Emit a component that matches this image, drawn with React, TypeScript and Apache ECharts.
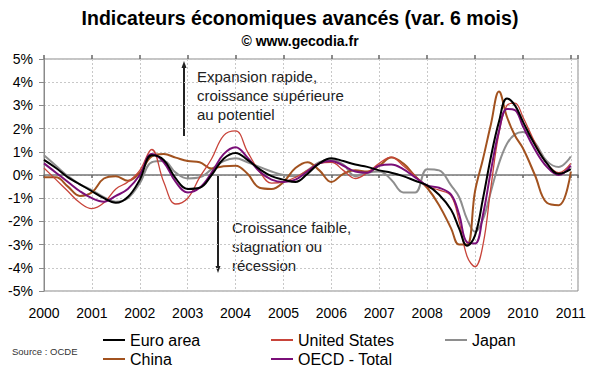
import React, { useEffect, useRef } from "react";
import * as echarts from "echarts";

const times = [
  2000, 2000.25, 2000.5, 2000.75, 2001, 2001.25, 2001.5, 2001.75,
  2002, 2002.25, 2002.5, 2002.75, 2003, 2003.25, 2003.5, 2003.75,
  2004, 2004.25, 2004.5, 2004.75, 2005, 2005.25, 2005.5, 2005.75,
  2006, 2006.25, 2006.5, 2006.75, 2007, 2007.25, 2007.5, 2007.75,
  2008, 2008.25, 2008.5, 2008.667, 2008.833, 2009, 2009.167, 2009.333,
  2009.5, 2009.667, 2009.833, 2010, 2010.25, 2010.5, 2010.75, 2011,
];

const euroArea = [
  0.65, 0.3, -0.1, -0.4, -0.7, -1.0, -1.2, -0.95,
  -0.2, 0.85, 0.65, -0.15, -0.6, -0.55, 0.0, 0.7,
  0.95, 0.65, 0.25, -0.05, -0.2, -0.3, 0.05, 0.5,
  0.72, 0.6, 0.45, 0.35, 0.2, 0.1, -0.05, -0.25,
  -0.45, -0.85, -1.5, -2.3, -3.05, -2.6, -1.0, 0.8,
  2.3, 3.3, 3.0, 2.3, 1.3, 0.5, 0.05, 0.25,
];

const unitedStates = [
  0.3, -0.2, -0.7, -1.2, -1.45, -1.2, -0.6, -0.3,
  0.2, 1.1, -0.3, -1.25, -1.0, -0.1, 0.7, 1.7,
  1.9, 1.0, 0.15, -0.35, -0.3, -0.1, 0.2, 0.5,
  0.55, 0.2, -0.15, 0.1, 0.5, 0.77, 0.4, -0.05,
  -0.5, -0.65, -0.9, -2.0, -3.5, -3.95, -3.0, -0.5,
  1.8, 3.0, 3.1, 2.5, 1.4, 0.5, 0.1, 0.5,
];

const japan = [
  0.85, 0.4, -0.05, -0.4, -0.65, -0.95, -1.15, -1.0,
  -0.35, 0.55, 0.6, 0.1, -0.15, -0.1, 0.25, 0.6,
  0.72, 0.55, 0.35, 0.15, 0.0, -0.05, 0.2, 0.55,
  0.65, 0.45, -0.05, 0.1, 0.15, -0.2, -0.75, -0.75,
  0.25, 0.2, -0.45, -0.95, -1.9, -2.45, -1.9, -0.7,
  0.5, 1.35, 1.75, 1.85, 1.4, 0.6, 0.35, 0.8,
];

const china = [
  -0.1, -0.1, -0.5, -0.9, -0.75, -0.15, -0.05, -0.25,
  0.1, 0.8, 0.9, 0.75, 0.6, 0.55, 0.28, 0.38,
  0.4, 0.05, -0.55, -0.6, -0.3, 0.3, 0.55, 0.2,
  -0.3, 0.05, 0.2, 0.15, 0.4, 0.75, 0.5, -0.05,
  -0.55, -1.3, -2.3, -3.0, -3.0, -0.7, 0.7, 2.2,
  3.6, 2.5, 1.7, 1.15, 0.0, -1.2, -1.3, 0.15,
];

const oecdTotal = [
  0.5, 0.1, -0.3, -0.7, -1.0, -1.15, -0.9, -0.6,
  0.0, 0.9, 0.55, -0.3, -0.75, -0.55, 0.1, 0.9,
  1.2, 0.75, 0.15, -0.2, -0.3, -0.2, 0.15, 0.5,
  0.6, 0.4, 0.15, 0.1, 0.4, 0.45, 0.25, -0.1,
  -0.45, -0.55, -0.85, -1.7, -2.9, -2.95, -1.7, 0.2,
  1.9, 2.85, 2.8, 2.1, 1.1, 0.35, 0.0, 0.4,
];

const seriesNames = ["Euro area", "United States", "Japan", "China", "OECD - Total"];
const seriesColors = ["#000000", "#c8443a", "#8e8e8e", "#a2521f", "#7a0f78"];
const seriesWidths = [2, 1.3, 2, 2, 2];
const seriesValues = [euroArea, unitedStates, japan, china, oecdTotal];
const drawOrder = [2, 3, 1, 4, 0];

const FONT = "'Liberation Sans', Arial, sans-serif";

export default function App() {
  const ref = useRef<HTMLDivElement>(null);
  useEffect(() => {
    if (!ref.current) return;
    const chart = echarts.init(ref.current, undefined, { renderer: "svg" });
    const series = drawOrder.map((i) => ({
      name: seriesNames[i],
      type: "line",
      data: times.map((t, k) => [t, seriesValues[i][k]]),
      showSymbol: false,
      symbol: "none",
      smooth: 0.4,
      color: seriesColors[i],
      lineStyle: { color: seriesColors[i], width: seriesWidths[i] },
      xAxisIndex: 0,
      yAxisIndex: 0,
    }));
    const legendBase = {
      orient: "vertical",
      icon: "rect",
      itemWidth: 22,
      itemHeight: 2,
      itemGap: 1,
      padding: 0,
      selectedMode: false,
      textStyle: { fontFamily: FONT, fontSize: 16, color: "#000", lineHeight: 18 },
    };
    chart.setOption({
      animation: false,
      backgroundColor: "#fff",
      grid: {
        left: 44,
        right: 22,
        top: 59,
        bottom: 81,
        show: true,
        borderColor: "#8a8a8a",
        borderWidth: 1,
      },
      xAxis: [
        {
          type: "value",
          min: 2000,
          max: 2011.15,
          interval: 1,
          axisLine: { show: false, onZero: false },
          axisTick: { show: false },
          splitLine: { show: true, lineStyle: { color: "#c8c8c8", type: [2, 2], width: 1 } },
          axisLabel: {
            fontFamily: FONT,
            fontSize: 14,
            color: "#000",
            margin: 15,
            showMaxLabel: false,
            formatter: (v: number) => (Number.isInteger(v) ? String(v) : ""),
          },
        },
        {
          type: "value",
          min: 2000,
          max: 2011.15,
          interval: 1,
          axisLine: { show: true, onZero: true, lineStyle: { color: "#777", width: 1.5 } },
          axisTick: { show: true, inside: true, length: 3, lineStyle: { color: "#666", width: 1.5 } },
          axisLabel: { show: false },
          splitLine: { show: false },
        },
        {
          type: "value",
          min: 2000,
          max: 2011.15,
          interval: 1,
          axisLine: { show: false, onZero: true },
          axisTick: { show: true, inside: false, length: 4, lineStyle: { color: "#666", width: 1.5 } },
          axisLabel: { show: false },
          splitLine: { show: false },
        },
      ],
      yAxis: {
        type: "value",
        min: -5,
        max: 5,
        interval: 1,
        axisLine: { show: true, lineStyle: { color: "#8a8a8a" } },
        axisTick: { show: true, length: 5, lineStyle: { color: "#8a8a8a" } },
        splitLine: { show: true, lineStyle: { color: "#c8c8c8", type: [2, 2], width: 1 } },
        axisLabel: {
          fontFamily: FONT,
          fontSize: 14,
          color: "#000",
          margin: 11,
          formatter: (v: number) => `${v}%`,
        },
      },
      legend: [
        { ...legendBase, left: 103, top: 331, data: ["Euro area", "China"] },
        { ...legendBase, left: 271, top: 331, data: ["United States", "OECD - Total"] },
        { ...legendBase, left: 445, top: 331, data: ["Japan"] },
      ],
      graphic: [
        {
          type: "text",
          left: "center",
          top: 8,
          style: {
            text: "Indicateurs économiques avancés (var. 6 mois)",
            font: `bold 19.5px ${FONT}`,
            fill: "#000",
          },
        },
        {
          type: "text",
          left: "center",
          top: 34,
          style: { text: "© www.gecodia.fr", font: `bold 14px ${FONT}`, fill: "#000" },
        },
        {
          type: "text",
          x: 12,
          y: 351,
          style: {
            text: "Source : OCDE",
            font: `9.5px ${FONT}`,
            fill: "#333",
            textVerticalAlign: "middle",
          },
        },
        {
          type: "text",
          x: 197,
          y: 66.5,
          style: {
            text: "Expansion rapide,\ncroissance supérieure\nau potentiel",
            font: `15px ${FONT}`,
            lineHeight: 19,
            fill: "#222",
            textVerticalAlign: "top",
          },
        },
        {
          type: "text",
          x: 232,
          y: 217.5,
          style: {
            text: "Croissance faible,\nstagnation ou\nrécession",
            font: `15px ${FONT}`,
            lineHeight: 19,
            fill: "#222",
            textVerticalAlign: "top",
          },
        },
        {
          type: "line",
          shape: { x1: 184, y1: 136, x2: 184, y2: 66 },
          style: { stroke: "#222", lineWidth: 2 },
        },
        {
          type: "polygon",
          shape: { points: [[184, 61], [181.5, 68], [186.5, 68]] },
          style: { fill: "#222" },
        },
        {
          type: "line",
          shape: { x1: 218, y1: 176, x2: 218, y2: 267 },
          style: { stroke: "#222", lineWidth: 2 },
        },
        {
          type: "polygon",
          shape: { points: [[218, 273], [215.5, 266], [220.5, 266]] },
          style: { fill: "#222" },
        },
      ],
      series,
    });
    return () => chart.dispose();
  }, []);
  return (
    <div
      ref={ref}
      style={{ position: "fixed", left: 0, top: 0, width: 600, height: 372 }}
    />
  );
}
